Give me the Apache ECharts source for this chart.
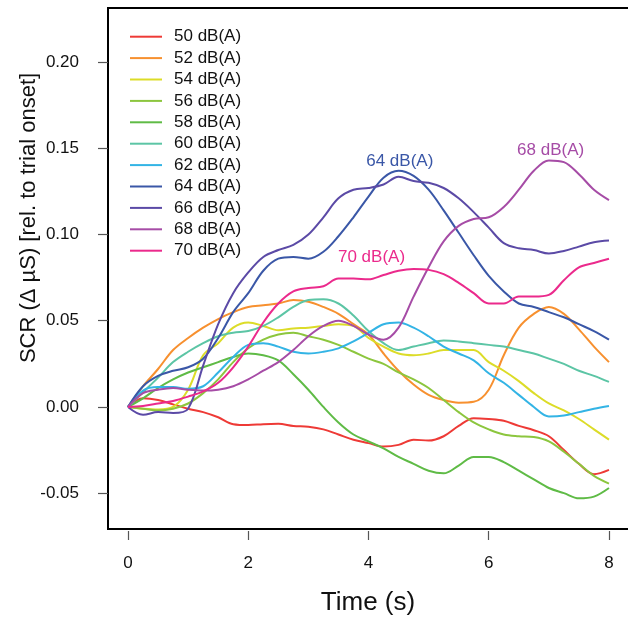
<!DOCTYPE html>
<html>
<head>
<meta charset="utf-8">
<script src="https://cdn.jsdelivr.net/npm/echarts@6/dist/echarts.min.js"></script>
<style>html,body{margin:0;padding:0;background:#fff}#c{width:628px;height:618px}</style>
</head>
<body>
<div id="c"></div>
<script>
const times = [0,0.25,0.5,0.75,1,1.25,1.5,1.75,2,2.25,2.5,2.75,3,3.25,3.5,3.75,4,4.25,4.5,4.75,5,5.25,5.5,5.75,6,6.25,6.5,6.75,7,7.25,7.5,7.75,8];
const names = ['50 dB(A)','52 dB(A)','54 dB(A)','56 dB(A)','58 dB(A)','60 dB(A)','62 dB(A)','64 dB(A)','66 dB(A)','68 dB(A)','70 dB(A)'];
const colors = ['#ee3a36','#f7902f','#dcdc28','#8cc63e','#5fbb46','#5cc5a5','#33b4e5','#3a57a7','#5b4aa6','#a64ca6','#eb2a8c'];
const s50 = [0,0.005,0.004,0.0015,-0.001,-0.003,-0.006,-0.010,-0.0105,-0.010,-0.0098,-0.011,-0.0115,-0.013,-0.016,-0.019,-0.021,-0.023,-0.022,-0.019,-0.0195,-0.017,-0.011,-0.0065,-0.007,-0.008,-0.011,-0.0135,-0.017,-0.025,-0.033,-0.039,-0.0365];
const s52 = [0,0.012,0.022,0.033,0.040,0.046,0.051,0.055,0.058,0.059,0.060,0.062,0.061,0.058,0.054,0.048,0.042,0.031,0.021,0.013,0.007,0.004,0.0025,0.003,0.010,0.030,0.046,0.054,0.058,0.054,0.045,0.035,0.026];
const s54 = [0,-0.001,-0.0015,0.000,0.010,0.030,0.037,0.046,0.049,0.047,0.0445,0.0455,0.046,0.047,0.048,0.047,0.040,0.035,0.031,0.030,0.031,0.033,0.033,0.033,0.026,0.021,0.015,0.008,0.002,-0.002,-0.007,-0.013,-0.019];
const s56 = [0,-0.001,-0.002,-0.001,0.002,0.008,0.016,0.026,0.034,0.039,0.042,0.043,0.041,0.039,0.036,0.032,0.028,0.025,0.020,0.016,0.011,0.004,-0.003,-0.009,-0.013,-0.016,-0.017,-0.0175,-0.020,-0.026,-0.033,-0.040,-0.0445];
const s58 = [0,0.005,0.011,0.016,0.020,0.023,0.026,0.029,0.031,0.030,0.027,0.019,0.010,0.000,-0.009,-0.016,-0.020,-0.024,-0.029,-0.033,-0.037,-0.0385,-0.034,-0.029,-0.029,-0.032,-0.037,-0.042,-0.047,-0.050,-0.053,-0.052,-0.047];
const s60 = [0,0.0085,0.017,0.026,0.032,0.037,0.041,0.043,0.044,0.047,0.052,0.058,0.062,0.0625,0.060,0.053,0.044,0.037,0.033,0.035,0.037,0.0385,0.038,0.037,0.036,0.035,0.033,0.031,0.028,0.025,0.021,0.018,0.0145];
const s62 = [0,0.0095,0.0115,0.0115,0.0105,0.012,0.020,0.029,0.036,0.037,0.035,0.032,0.031,0.032,0.034,0.038,0.043,0.048,0.049,0.046,0.041,0.035,0.031,0.027,0.0195,0.014,0.007,0.000,-0.0055,-0.005,-0.003,-0.001,0.0006];
const s64 = [0,0.012,0.018,0.021,0.023,0.028,0.040,0.055,0.066,0.079,0.086,0.087,0.086,0.090,0.099,0.110,0.122,0.133,0.137,0.134,0.126,0.114,0.101,0.088,0.076,0.067,0.060,0.058,0.055,0.052,0.048,0.044,0.039];
const s66 = [0,-0.0045,-0.003,-0.0035,-0.001,0.024,0.048,0.066,0.078,0.087,0.091,0.094,0.100,0.110,0.121,0.126,0.127,0.129,0.1335,0.131,0.130,0.127,0.121,0.113,0.104,0.095,0.092,0.091,0.089,0.0905,0.093,0.0955,0.0965];
const s68 = [0,0.008,0.010,0.011,0.010,0.0095,0.010,0.012,0.016,0.021,0.026,0.033,0.041,0.047,0.050,0.047,0.042,0.039,0.046,0.064,0.081,0.096,0.105,0.109,0.110,0.116,0.126,0.137,0.143,0.142,0.135,0.126,0.120];
const s70 = [0,0.0006,0.002,0.0035,0.006,0.009,0.014,0.023,0.035,0.049,0.060,0.067,0.069,0.070,0.0745,0.0745,0.074,0.0765,0.079,0.080,0.0795,0.077,0.072,0.066,0.060,0.060,0.064,0.064,0.065,0.0735,0.081,0.0835,0.086];
const xTicks = [0,2,4,6,8];
const yTicks = [-0.05,0,0.05,0.10,0.15,0.20];
const annotations = [
  {series: 7, coord: [4.52, 0.1425]},
  {series: 9, coord: [7.03, 0.149]},
  {series: 10, coord: [4.05, 0.0865]}
];
const allData = [s50,s52,s54,s56,s58,s60,s62,s64,s66,s68,s70];

const FONT = "'Liberation Sans', Arial, sans-serif";
const chart = echarts.init(document.getElementById('c'), null, {renderer: 'canvas'});
const series = allData.map((vals, k) => {
  const s = {
    name: names[k], type: 'line', data: times.map((t, i) => [t, vals[i]]),
    smooth: 0.35, showSymbol: false, symbol: 'none',
    lineStyle: {width: 2, color: colors[k]}, itemStyle: {color: colors[k]},
    emphasis: {disabled: true}, animation: false, z: 2 + k
  };
  const a = annotations.find(o => o.series === k);
  if (a) {
    s.markPoint = {
      symbol: 'circle', symbolSize: 0, silent: true, animation: false,
      label: {show: true, position: 'inside', formatter: names[k], color: colors[k], fontSize: 17, fontFamily: FONT},
      data: [{coord: a.coord}]
    };
  }
  return s;
});

chart.setOption({
  backgroundColor: '#fff',
  animation: false,
  grid: {left: 108, top: 8, width: 526, height: 521, show: true, borderColor: '#000', borderWidth: 2, backgroundColor: 'transparent', containLabel: false, outerBoundsMode: 'none'},
  legend: {
    orient: 'vertical', left: 125, top: 21, itemWidth: 32, itemHeight: 2, itemGap: 0,
    icon: 'rect', data: names,
    textStyle: {fontSize: 17, fontFamily: FONT, color: '#111', lineHeight: 21.4, padding: [0, 0, 0, 7]},
    selectedMode: false
  },
  xAxis: {
    type: 'value', min: -0.3326, max: 8.416, offset: 2,
    axisLine: {show: false, onZero: false},
    axisTick: {show: true, length: 9, lineStyle: {color: '#555', width: 1.2}, customValues: xTicks},
    axisLabel: {show: true, customValues: xTicks, margin: 24, fontSize: 17, fontFamily: FONT, color: '#111', formatter: v => String(v)},
    splitLine: {show: false},
    name: 'Time (s)', nameLocation: 'middle', nameGap: 59,
    nameTextStyle: {fontSize: 26, fontFamily: FONT, color: '#111', padding: [0, 6, 0, 0]}
  },
  yAxis: {
    type: 'value', min: -0.0708, max: 0.2314,
    axisLine: {show: false, onZero: false},
    axisTick: {show: true, length: 10, lineStyle: {color: '#555', width: 1.2}, customValues: yTicks},
    axisLabel: {show: true, customValues: yTicks, margin: 29, fontSize: 17, fontFamily: FONT, color: '#111', formatter: v => v.toFixed(2)},
    splitLine: {show: false}
  },
  graphic: [{
    type: 'text', x: 29, y: 218, rotation: Math.PI / 2,
    style: {text: 'SCR (\u0394 \u00b5S) [rel. to trial onset]', fontSize: 22, fontFamily: FONT, fill: '#111', textAlign: 'center', textVerticalAlign: 'middle'}
  }],
  series: series
});
</script>
</body>
</html>
